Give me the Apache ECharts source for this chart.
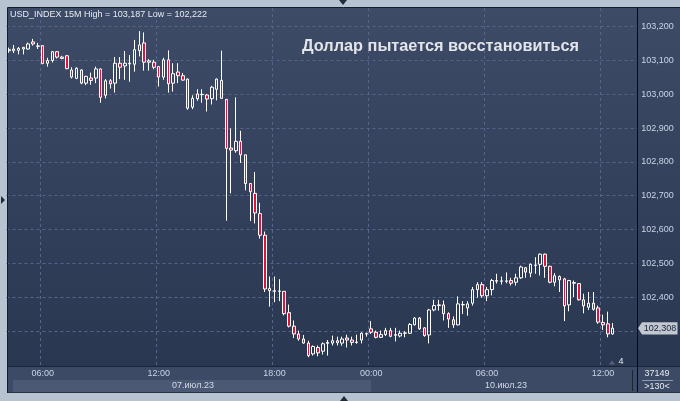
<!DOCTYPE html>
<html><head><meta charset="utf-8">
<script src="https://cdn.jsdelivr.net/npm/echarts@6/dist/echarts.min.js"></script>
<style>html,body{margin:0;padding:0;background:#b8c3d2;}#c{width:680px;height:401px;}</style>
</head><body><div id="c"></div>
<script>
const fridayTimes = [
"07 04:15","07 04:30","07 04:45",
"07 05:00","07 05:15","07 05:30","07 05:45","07 06:00","07 06:15","07 06:30","07 06:45",
"07 07:00","07 07:15","07 07:30","07 07:45","07 08:00","07 08:15","07 08:30","07 08:45",
"07 09:00","07 09:15","07 09:30","07 09:45","07 10:00","07 10:15","07 10:30","07 10:45",
"07 11:00","07 11:15","07 11:30","07 11:45","07 12:00","07 12:15","07 12:30","07 12:45",
"07 13:00","07 13:15","07 13:30","07 13:45","07 14:00","07 14:15","07 14:30","07 14:45",
"07 15:00","07 15:15","07 15:30","07 15:45","07 16:00","07 16:15","07 16:30","07 16:45",
"07 17:00","07 17:15","07 17:30","07 17:45","07 18:00","07 18:15","07 18:30","07 18:45",
"07 19:00","07 19:15","07 19:30","07 19:45","07 20:00","07 20:15","07 20:30","07 20:45",
"07 21:00","07 21:15","07 21:30","07 21:45","07 22:00","07 22:15","07 22:30","07 22:45"];
const mondayTimes = [
"10 00:00","10 00:15","10 00:30","10 00:45","10 01:00","10 01:15","10 01:30","10 01:45",
"10 02:00","10 02:15","10 02:30","10 02:45","10 03:00","10 03:15","10 03:30","10 03:45",
"10 04:00","10 04:15","10 04:30","10 04:45","10 05:00","10 05:15","10 05:30","10 05:45",
"10 06:00","10 06:15","10 06:30","10 06:45","10 07:00","10 07:15","10 07:30","10 07:45",
"10 08:00","10 08:15","10 08:30","10 08:45","10 09:00","10 09:15","10 09:30","10 09:45",
"10 10:00","10 10:15","10 10:30","10 10:45","10 11:00","10 11:15","10 11:30","10 11:45",
"10 12:00","10 12:15","10 12:30"];
const emptySlots = ["p1","p2","p3","p4","p5"];

const opens = [
103.129,103.129,103.130,103.139,103.134,103.155,103.143,103.144,103.092,103.100,
103.126,103.110,103.114,103.072,103.047,103.072,103.033,103.048,103.048,103.075,
102.997,103.040,103.033,103.092,103.084,103.090,103.089,103.129,103.152,103.095,
103.095,103.082,103.051,103.102,103.033,103.066,103.055,103.045,102.962,102.987,
103.000,102.998,102.987,103.015,103.041,102.985,102.841,102.833,102.861,102.821,
102.736,102.707,102.647,102.583,102.426,102.419,102.417,102.417,102.354,102.314,
102.291,102.276,102.264,102.232,102.251,102.240,102.263,102.264,102.271,102.264,
102.279,102.273,102.266,102.273,102.291,102.306,102.296,102.281,102.289,102.301,
102.287,102.285,102.293,102.293,102.318,102.338,102.309,102.288,102.362,102.375,
102.377,102.351,102.333,102.318,102.378,102.368,102.382,102.422,102.437,102.404,
102.422,102.449,102.447,102.448,102.449,102.444,102.457,102.487,102.471,102.494,
102.497,102.527,102.491,102.444,102.461,102.454,102.377,102.443,102.440,102.392,
102.370,102.382,102.368,102.325,102.321,102.291];
const closes = [
103.132,103.134,103.136,103.134,103.149,103.149,103.142,103.091,103.100,103.126,
103.110,103.106,103.076,103.051,103.077,103.033,103.053,103.041,103.075,102.991,
103.040,103.031,103.092,103.080,103.092,103.092,103.132,103.146,103.095,103.099,
103.080,103.051,103.102,103.031,103.061,103.055,103.042,102.959,102.988,103.001,
102.999,102.986,103.021,103.045,102.988,102.840,102.835,102.861,102.821,102.736,
102.712,102.649,102.583,102.424,102.419,102.417,102.418,102.351,102.314,102.291,
102.276,102.264,102.227,102.254,102.235,102.262,102.266,102.271,102.265,102.276,
102.273,102.266,102.267,102.293,102.292,102.296,102.281,102.289,102.301,102.284,
102.289,102.293,102.294,102.319,102.338,102.306,102.286,102.362,102.375,102.377,
102.351,102.335,102.318,102.380,102.377,102.380,102.422,102.437,102.404,102.422,
102.449,102.447,102.448,102.447,102.441,102.457,102.489,102.474,102.497,102.495,
102.527,102.491,102.444,102.463,102.451,102.374,102.449,102.441,102.392,102.374,
102.382,102.364,102.326,102.318,102.291,102.308];
const lows = [
103.123,103.122,103.118,103.118,103.132,103.144,103.134,103.089,103.082,103.094,
103.106,103.104,103.074,103.047,103.045,103.030,103.027,103.028,103.033,102.975,
102.988,103.017,103.005,103.045,103.043,103.037,103.067,103.112,103.070,103.070,
103.074,103.023,103.043,103.005,103.008,103.033,103.040,102.954,102.956,102.981,
102.975,102.949,102.970,102.982,102.988,102.626,102.707,102.827,102.797,102.716,
102.625,102.618,102.573,102.415,102.372,102.385,102.388,102.346,102.310,102.279,
102.271,102.262,102.222,102.227,102.225,102.230,102.227,102.257,102.257,102.256,
102.251,102.257,102.262,102.263,102.283,102.291,102.278,102.279,102.285,102.281,
102.269,102.281,102.281,102.291,102.316,102.303,102.283,102.263,102.358,102.360,
102.331,102.309,102.309,102.316,102.350,102.345,102.375,102.398,102.398,102.388,
102.405,102.440,102.437,102.441,102.434,102.434,102.454,102.457,102.459,102.469,
102.464,102.457,102.441,102.432,102.415,102.329,102.358,102.400,102.390,102.352,
102.362,102.360,102.321,102.303,102.281,102.289];
const highs = [
103.138,103.146,103.140,103.140,103.153,103.164,103.152,103.144,103.108,103.128,
103.128,103.114,103.116,103.080,103.080,103.074,103.055,103.064,103.082,103.076,
103.045,103.045,103.110,103.110,103.128,103.116,103.161,103.187,103.183,103.104,
103.102,103.084,103.108,103.130,103.092,103.092,103.063,103.047,102.997,103.015,
103.015,103.001,103.025,103.047,103.129,102.985,102.899,102.991,102.892,102.821,
102.736,102.770,102.679,102.594,102.461,102.461,102.453,102.417,102.378,102.331,
102.301,102.288,102.271,102.257,102.257,102.266,102.273,102.286,102.283,102.283,
102.289,102.283,102.289,102.296,102.295,102.329,102.301,102.301,102.309,102.309,
102.309,102.301,102.299,102.323,102.341,102.341,102.311,102.365,102.392,102.392,
102.390,102.355,102.343,102.402,102.388,102.388,102.430,102.444,102.444,102.430,
102.454,102.469,102.461,102.473,102.457,102.469,102.493,102.489,102.499,102.518,
102.529,102.529,102.493,102.471,102.464,102.457,102.451,102.449,102.441,102.410,
102.415,102.415,102.375,102.348,102.357,102.323];
const priceTicks = [102.3,102.4,102.5,102.6,102.7,102.8,102.9,103.0,103.1,103.2];
const dayLabels = ["07.июл.23","10.июл.23"];
const headerText = "USD_INDEX 15M High = 103,187 Low = 102,222";
const titleText = "Доллар пытается восстановиться";
const lastPrice = 102.308;

const categories = fridayTimes.concat(mondayTimes, emptySlots);
const candleData = opens.map((o, i) => [o, closes[i], lows[i], highs[i]]);

const chart = echarts.init(document.getElementById('c'), null, {renderer: 'canvas'});
const G_LEFT = 6.5, G_WIDTH = 632.7;
const showTime = (i, v) => /^\d\d (00|06|12|18):00$/.test(v);
const FONT = 'Liberation Sans, Arial, sans-serif';
const gridGrad = new echarts.graphic.LinearGradient(0, 0, 0, 1, [
  {offset: 0, color: '#3e4b67'}, {offset: 1, color: '#2a3751'}]);

chart.setOption({
  animation: false,
  backgroundColor: '#b8c3d2',
  grid: [
    {left: G_LEFT, top: 26.7, width: G_WIDTH, height: 338},
    {left: G_LEFT, top: 8, width: G_WIDTH, height: 358}
  ],
  xAxis: [
    {type: 'category', gridIndex: 0, data: categories, boundaryGap: true,
     axisLine: {show: false}, axisTick: {show: false}, axisLabel: {show: false}, splitLine: {show: false}},
    {type: 'category', gridIndex: 1, data: categories, boundaryGap: true, position: 'bottom',
     axisLine: {show: false}, axisTick: {show: false},
     axisLabel: {show: true, interval: showTime, formatter: v => v.slice(3), margin: 3,
       color: '#c9d4e6', fontSize: 9, fontFamily: FONT},
     splitLine: {show: true, interval: showTime, lineStyle: {color: '#55658a', type: [3, 3], width: 1}}}
  ],
  yAxis: [
    {type: 'value', gridIndex: 0, position: 'right', min: priceTicks[0] - 0.1, max: priceTicks[priceTicks.length - 1], interval: 0.1,
     axisLine: {show: false}, axisTick: {show: false},
     axisLabel: {show: true, showMinLabel: false, margin: 2, color: '#c9d4e6', fontSize: 9, fontFamily: FONT,
       formatter: v => v.toFixed(3).replace('.', ',')},
     splitLine: {show: true, showMinLine: false, lineStyle: {color: '#55658a', type: [3, 3], width: 1}}},
    {type: 'value', gridIndex: 1, min: 0, max: 1, show: false}
  ],
  series: [{
    type: 'candlestick', xAxisIndex: 0, yAxisIndex: 0, data: candleData, barWidth: 3,
    itemStyle: {color: 'rgba(0,0,0,0)', color0: '#e3103a', borderColor: '#ffffff', borderColor0: '#ffffff',
      borderColorDoji: '#ffffff', borderWidth: 1}
  }],
  graphic: [
    {type: 'rect', z: -10, shape: {x: 8, y: 8, width: 672, height: 358}, style: {fill: gridGrad}},
    {type: 'rect', z: -10, shape: {x: 8, y: 366, width: 672, height: 26}, style: {fill: '#3d4a65'}},
    {type: 'rect', z: -9, shape: {x: 13, y: 380, width: 358, height: 12}, style: {fill: '#4b5974'}},
    {type: 'rect', z: 50, shape: {x: 638, y: 8, width: 3, height: 358}, style: {fill: gridGrad}},
    {type: 'line', z: 60, shape: {x1: 7.5, y1: 7.5, x2: 680, y2: 7.5}, style: {stroke: '#141b2a', lineWidth: 1}},
    {type: 'line', z: 60, shape: {x1: 7.5, y1: 7.5, x2: 7.5, y2: 393}, style: {stroke: '#141b2a', lineWidth: 1}},
    {type: 'line', z: 60, shape: {x1: 8, y1: 366.5, x2: 680, y2: 366.5}, style: {stroke: '#1b2438', lineWidth: 1}},
    {type: 'line', z: 60, shape: {x1: 8, y1: 392.5, x2: 680, y2: 392.5}, style: {stroke: '#2a3344', lineWidth: 1}},
    {type: 'line', z: 60, shape: {x1: 637.5, y1: 8, x2: 637.5, y2: 392}, style: {stroke: '#070b14', lineWidth: 1}},
    {type: 'line', z: 60, shape: {x1: 632.5, y1: 370, x2: 632.5, y2: 391}, style: {stroke: '#1c2536', lineWidth: 1}},
    {type: 'line', z: 60, shape: {x1: 642, y1: 380.5, x2: 673, y2: 380.5}, style: {stroke: '#8e9ab0', lineWidth: 1}},
    {type: 'text', z: 60, style: {text: '37149', x: 657, y: 373.5, fill: '#e4e9f0', font: '9px ' + FONT, textAlign: 'center', textVerticalAlign: 'middle'}},
    {type: 'text', z: 60, style: {text: '>130<', x: 657, y: 386.5, fill: '#e4e9f0', font: '9px ' + FONT, textAlign: 'center', textVerticalAlign: 'middle'}},
    {type: 'text', z: 60, style: {text: dayLabels[0], x: 193, y: 386, fill: '#d3dbe8', font: '9px ' + FONT, textAlign: 'center', textVerticalAlign: 'middle'}},
    {type: 'text', z: 60, style: {text: dayLabels[1], x: 506, y: 386, fill: '#d3dbe8', font: '9px ' + FONT, textAlign: 'center', textVerticalAlign: 'middle'}},
    {type: 'text', z: 60, style: {text: headerText, x: 10, y: 15, fill: '#e6ebf2', font: '9px ' + FONT, textAlign: 'left', textVerticalAlign: 'middle'}},
    {type: 'text', z: 60, style: {text: titleText, x: 302, y: 47, fill: '#e2e5ea', font: 'bold 16.3px ' + FONT, textAlign: 'left', textVerticalAlign: 'middle'}},
    {type: 'polygon', z: 60, shape: {points: [[609, 364.5], [615, 364.5], [612, 360.5]]}, style: {fill: '#56627a'}},
    {type: 'text', z: 60, style: {text: '4', x: 621, y: 361.5, fill: '#e4e9f0', font: '9px ' + FONT, textAlign: 'center', textVerticalAlign: 'middle'}},
    {type: 'polygon', z: 70, shape: {points: [[638, 328.3], [642, 322.3], [677.5, 322.3], [677.5, 334.5], [642, 334.5]]}, style: {fill: '#c3c8d0'}},
    {type: 'text', z: 71, style: {text: lastPrice.toFixed(3).replace('.', ','), x: 660, y: 328.5, fill: '#13213a', font: '9px ' + FONT, textAlign: 'center', textVerticalAlign: 'middle'}},
    {type: 'polygon', z: 60, shape: {points: [[339, 0], [347, 0], [343, 5]]}, style: {fill: '#222b3b'}},
    {type: 'polygon', z: 60, shape: {points: [[1, 196], [1, 204], [5, 200]]}, style: {fill: '#222b3b'}},
    {type: 'polygon', z: 60, shape: {points: [[340, 401], [348, 401], [344, 396]]}, style: {fill: '#222b3b'}}
  ]
});
</script></body></html>
